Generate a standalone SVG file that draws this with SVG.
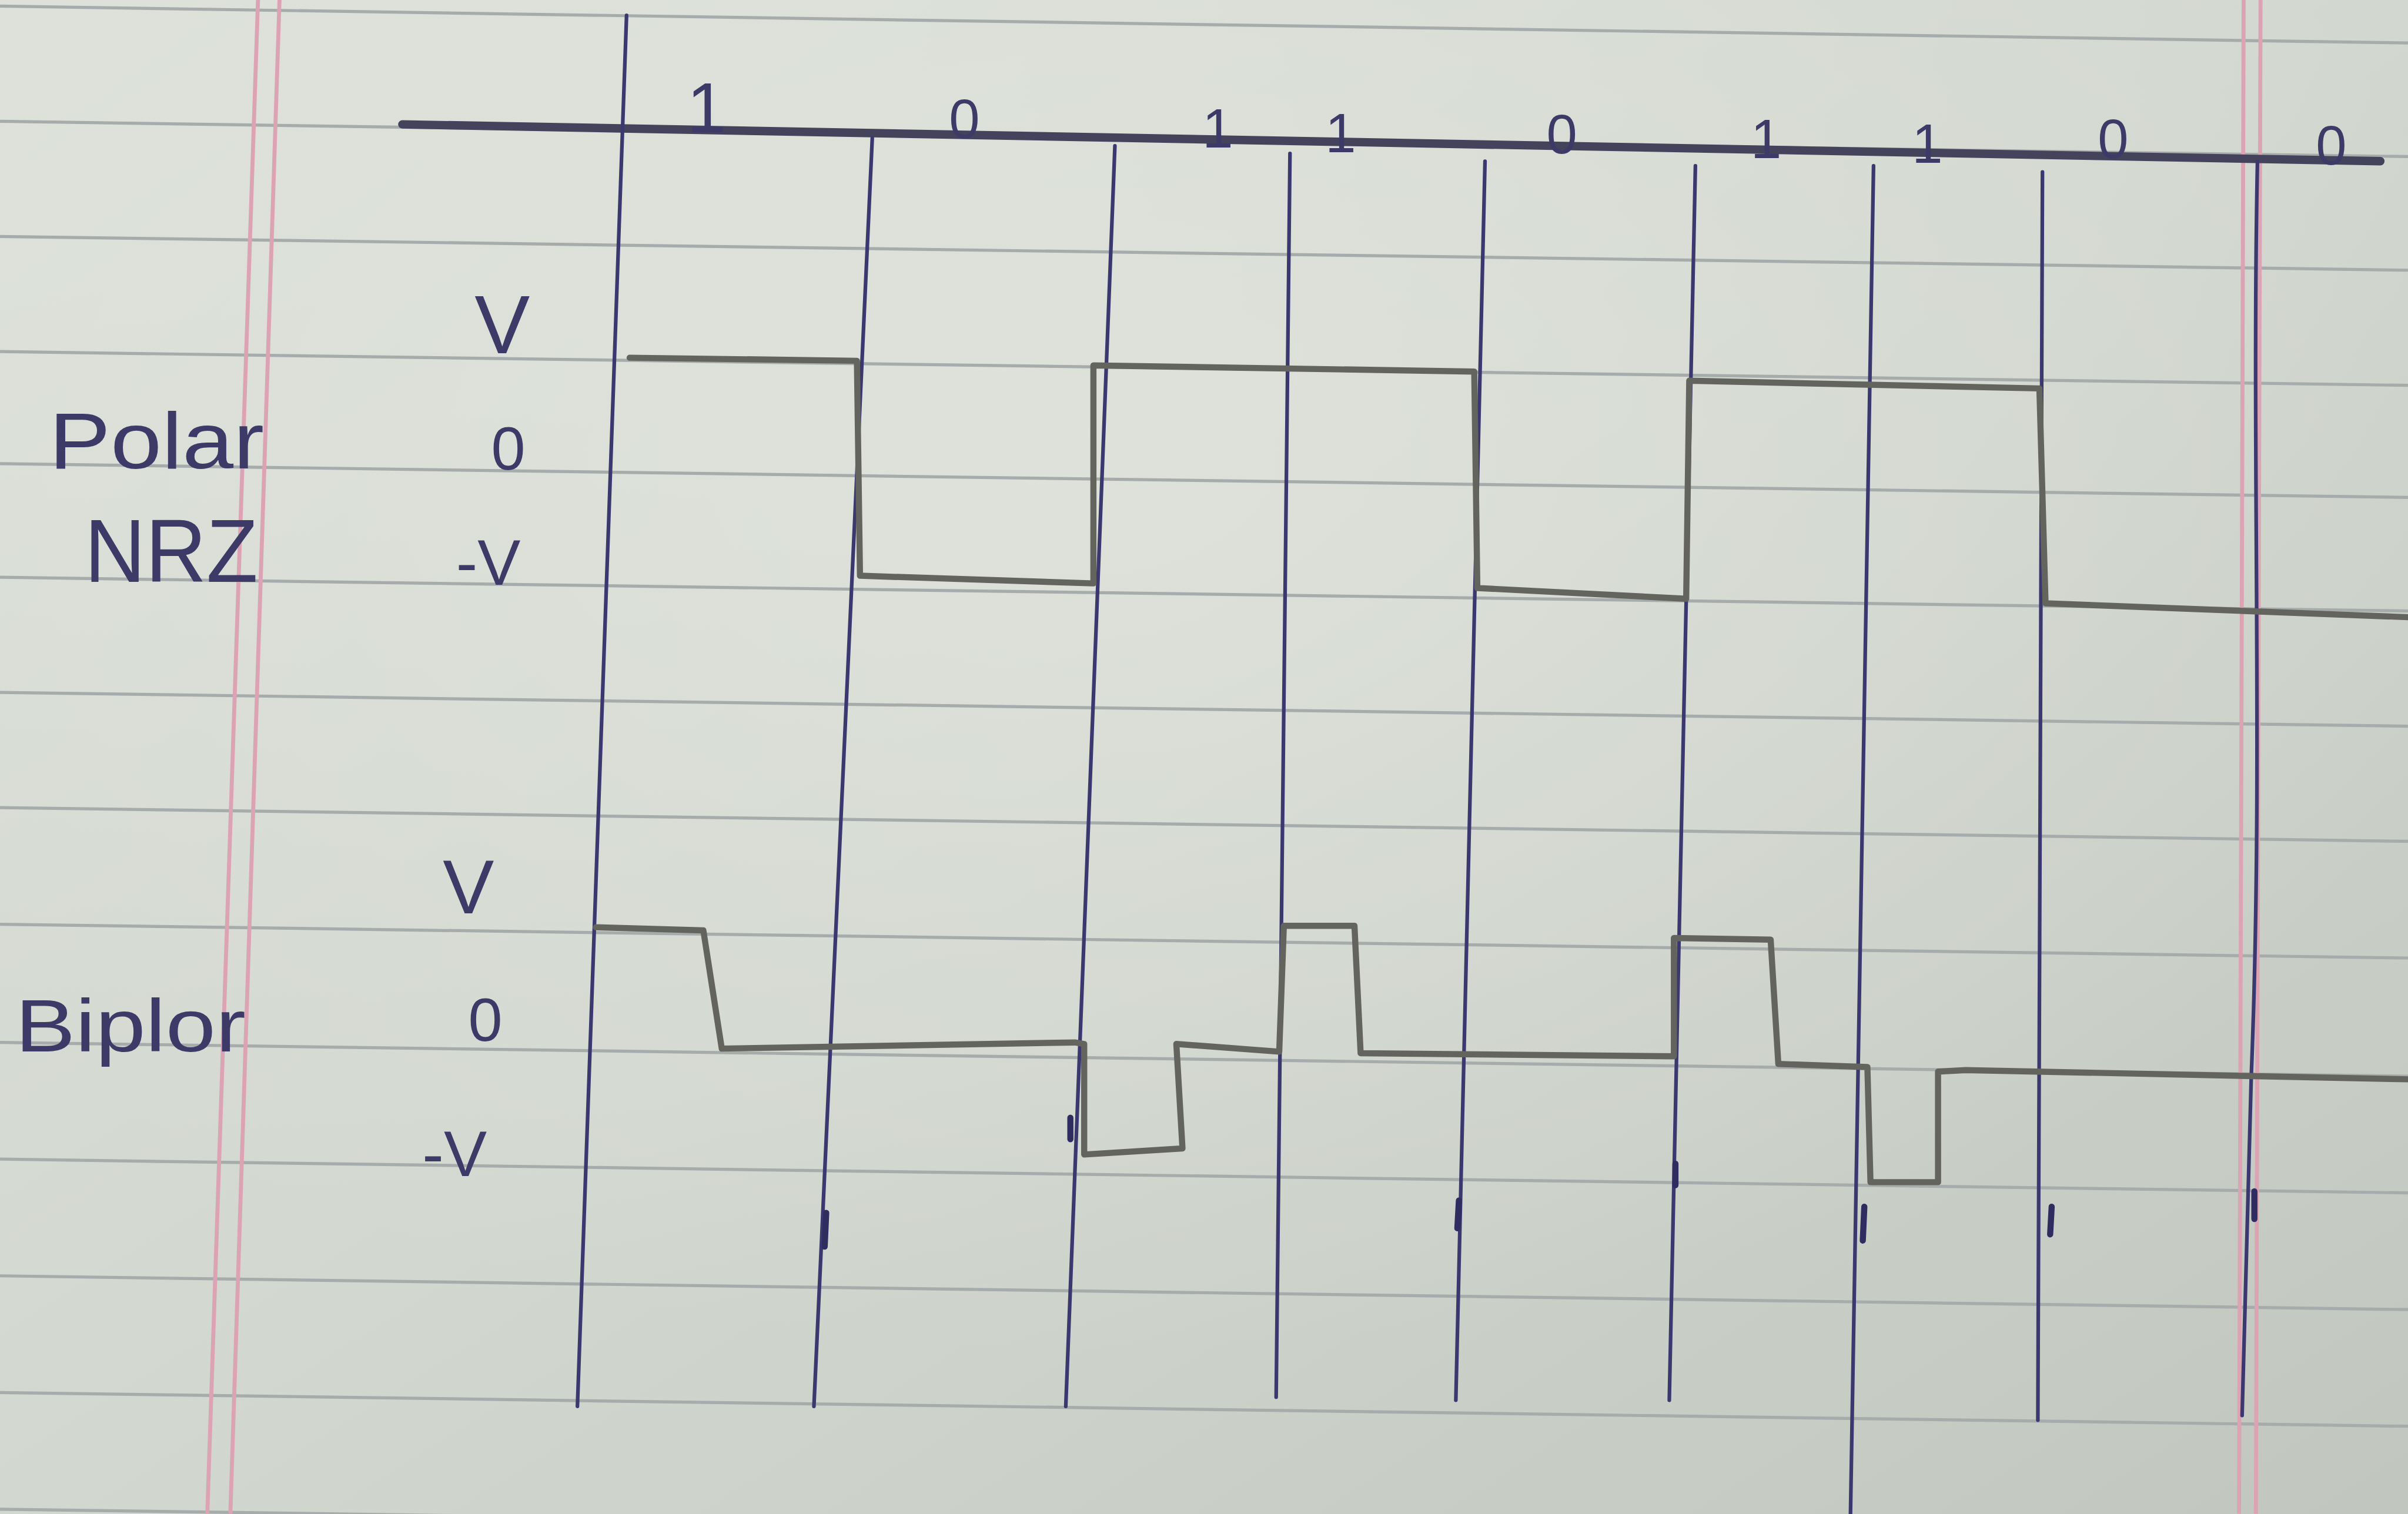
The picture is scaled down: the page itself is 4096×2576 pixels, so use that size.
<svg xmlns="http://www.w3.org/2000/svg" width="4096" height="2576" viewBox="0 0 4096 2576">
<defs>
<linearGradient id="paper" x1="0" y1="0" x2="1" y2="1">
<stop offset="0" stop-color="#dde1da"/>
<stop offset="0.5" stop-color="#d2d7cf"/>
<stop offset="1" stop-color="#c1c6be"/>
</linearGradient>
<radialGradient id="glow" cx="0.45" cy="0.3" r="0.6">
<stop offset="0" stop-color="#e4e7e0" stop-opacity="0.6"/>
<stop offset="1" stop-color="#e4e7e0" stop-opacity="0"/>
</radialGradient>
<style>
.rule{stroke:#a6abab;stroke-width:2;fill:none}
.pink{stroke:#dba3b4;stroke-width:2.6;fill:none}
.pen{stroke:#3b3870;stroke-width:2.4;fill:none;stroke-linecap:round}
.axis{stroke:#45435c;stroke-width:5.5;fill:none;stroke-linecap:round}
.pencil{stroke:#64645e;stroke-width:4;fill:none;stroke-linejoin:round;stroke-linecap:round}
.blob{stroke:#2f2c60;stroke-width:4;stroke-linecap:round}
.hand{font-family:"Liberation Sans","DejaVu Sans",sans-serif;fill:#3d3a68}
</style>
</defs>
<rect width="4096" height="2576" fill="url(#paper)"/>
<rect width="4096" height="2576" fill="url(#glow)"/>
<g transform="scale(2.6122)">
<g id="ruled-lines">
<line class="rule" x1="0" y1="4" x2="1568" y2="28"/>
<line class="rule" x1="0" y1="79" x2="1568" y2="102"/>
<line class="rule" x1="0" y1="154" x2="1568" y2="176"/>
<line class="rule" x1="0" y1="229" x2="1568" y2="251"/>
<line class="rule" x1="0" y1="302" x2="1568" y2="324"/>
<line class="rule" x1="0" y1="376" x2="1568" y2="398"/>
<line class="rule" x1="0" y1="451" x2="1568" y2="473"/>
<line class="rule" x1="0" y1="526" x2="1568" y2="548"/>
<line class="rule" x1="0" y1="602" x2="1568" y2="624"/>
<line class="rule" x1="0" y1="679" x2="1568" y2="701"/>
<line class="rule" x1="0" y1="755" x2="1568" y2="777"/>
<line class="rule" x1="0" y1="831" x2="1568" y2="853"/>
<line class="rule" x1="0" y1="907" x2="1568" y2="929"/>
<line class="rule" x1="0" y1="983" x2="1568" y2="1005"/>
</g>
<g id="margins">
<line class="pink" x1="168" y1="0" x2="135" y2="986"/>
<line class="pink" x1="182" y1="0" x2="150" y2="986"/>
<line class="pink" x1="1461" y1="0" x2="1458" y2="986"/>
<line class="pink" x1="1472" y1="0" x2="1469" y2="986"/>
</g>
<g id="grid">
<line class="axis" x1="262" y1="81" x2="1550" y2="105"/>
<line class="pen" x1="408" y1="10" x2="376" y2="916"/>
<line class="pen" x1="568" y1="90" x2="530" y2="916"/>
<line class="pen" x1="726" y1="95" x2="694" y2="916"/>
<line class="pen" x1="840" y1="100" x2="831" y2="910"/>
<line class="pen" x1="967" y1="105" x2="948" y2="912"/>
<line class="pen" x1="1104" y1="108" x2="1087" y2="912"/>
<line class="pen" x1="1220" y1="108" x2="1205" y2="986"/>
<line class="pen" x1="1330" y1="112" x2="1327" y2="925"/>
<path class="pen" d="M1470,105 C1466,300 1474,500 1466,700 L1460,922"/>
<line class="blob" x1="538" y1="790" x2="537" y2="812"/>
<line class="blob" x1="697" y1="728" x2="697" y2="742"/>
<line class="blob" x1="950" y1="782" x2="949" y2="800"/>
<line class="blob" x1="1091" y1="758" x2="1091" y2="772"/>
<line class="blob" x1="1214" y1="786" x2="1213" y2="808"/>
<line class="blob" x1="1336" y1="786" x2="1335" y2="804"/>
<line class="blob" x1="1468" y1="776" x2="1468" y2="794"/>
</g>
<g id="bits" class="hand" font-size="36" text-anchor="middle">
<text x="460" y="86" font-size="46">1</text>
<text x="628" y="90">0</text>
<text x="793" y="96">1</text>
<text x="873" y="99">1</text>
<text x="1017" y="100">0</text>
<text x="1150" y="103">1</text>
<text x="1255" y="106">1</text>
<text x="1376" y="103">0</text>
<text x="1518" y="107">0</text>
</g>
<g id="polar-nrz">
<text class="hand" x="32" y="305" font-size="52" textLength="140" lengthAdjust="spacingAndGlyphs">Polar</text>
<text class="hand" x="55" y="379" font-size="58" textLength="113" lengthAdjust="spacingAndGlyphs">NRZ</text>
<text class="hand" x="327" y="230" font-size="54" text-anchor="middle">V</text>
<text class="hand" x="331" y="306" font-size="40" text-anchor="middle">0</text>
<text class="hand" x="318" y="381" font-size="42" text-anchor="middle">-V</text>
<path class="pencil" d="M410,233 L558,235 L560,375 L712,380 L712,238 L960,242 L962,383 L1098,390 L1100,248 L1328,253 L1332,393 L1568,402"/>
</g>
<g id="bipolar">
<text class="hand" x="10" y="685" font-size="48" textLength="150" lengthAdjust="spacingAndGlyphs">Biplor</text>
<text class="hand" x="305" y="595" font-size="50" text-anchor="middle">V</text>
<text class="hand" x="316" y="678" font-size="40" text-anchor="middle">0</text>
<text class="hand" x="296" y="766" font-size="42" text-anchor="middle">-V</text>
<path class="pencil" d="M388,604 L458,606 L470,683 L700,679 L706,680 L706,752 L770,748 L766,680 L833,685 L836,603 L882,603 L886,686 L1090,688 L1090,611 L1153,612 L1158,693 L1216,695 L1218,770 L1262,770 L1262,698 L1280,697 L1568,703"/>
</g>
</g>
</svg>
